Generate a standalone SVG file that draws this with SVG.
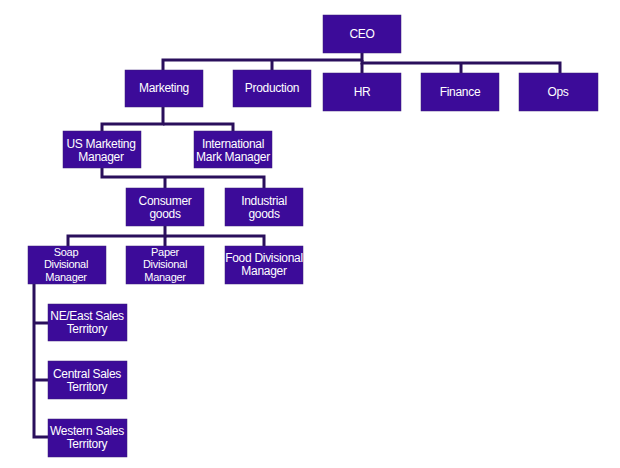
<svg xmlns="http://www.w3.org/2000/svg" width="620" height="468" viewBox="0 0 620 468">
<style>
.b{fill:#3c0b99;stroke:#3a1c7a;stroke-width:0.5}
.t{fill:#ffffff;font-family:"Liberation Sans",Arial,sans-serif;font-size:12px;text-anchor:middle;letter-spacing:-0.3px}
.s{font-size:11px}
.c{fill:none;stroke:#2a0f5c;stroke-width:3;stroke-linecap:butt}
</style>
<rect width="620" height="468" fill="#ffffff"/>
<g id="connectors">
<polyline class="c" points="362,53 362,60 163,60 163,70"/>
<line class="c" x1="272" y1="60" x2="272" y2="70"/>
<polyline class="c" points="362,60 362,63 560,63 560,73"/>
<line class="c" x1="362" y1="63" x2="362" y2="73"/>
<line class="c" x1="461" y1="63" x2="461" y2="73"/>
<polyline class="c" points="163,107 163,124 102,124 102,131"/>
<polyline class="c" points="163,124 233,124 233,131"/>
<polyline class="c" points="102,168 102,177 264,177 264,188"/>
<line class="c" x1="165" y1="177" x2="165" y2="188"/>
<polyline class="c" points="165,226 165,236 68,236 68,246"/>
<polyline class="c" points="165,236 264,236 264,246"/>
<line class="c" x1="165" y1="236" x2="165" y2="246"/>
<polyline class="c" points="34,284 34,437 48,437"/>
<line class="c" x1="34" y1="323" x2="48" y2="323"/>
<line class="c" x1="34" y1="380" x2="48" y2="380"/>
</g>
<g id="ceo"><rect class="b" x="323" y="15" width="78" height="38"/><text class="t" x="362" y="38">CEO</text></g>
<g id="marketing"><rect class="b" x="125" y="70" width="78" height="37"/><text class="t" x="164" y="92">Marketing</text></g>
<g id="production"><rect class="b" x="233" y="70" width="78" height="37"/><text class="t" x="272" y="92">Production</text></g>
<g id="hr"><rect class="b" x="323" y="73" width="78" height="38"/><text class="t" x="362" y="96">HR</text></g>
<g id="finance"><rect class="b" x="421" y="73" width="78" height="38"/><text class="t" x="460" y="96">Finance</text></g>
<g id="ops"><rect class="b" x="519" y="73" width="79" height="38"/><text class="t" x="558" y="96">Ops</text></g>
<g id="us-marketing"><rect class="b" x="63" y="131" width="78" height="37"/><text class="t" x="101" y="148">US Marketing</text><text class="t" x="101" y="161">Manager</text></g>
<g id="international"><rect class="b" x="194" y="131" width="78" height="37"/><text class="t" x="233" y="148">International</text><text class="t" x="233" y="161">Mark Manager</text></g>
<g id="consumer"><rect class="b" x="126" y="188" width="78" height="38"/><text class="t" x="165" y="205">Consumer</text><text class="t" x="165" y="218">goods</text></g>
<g id="industrial"><rect class="b" x="225" y="188" width="78" height="38"/><text class="t" x="264" y="205">Industrial</text><text class="t" x="264" y="218">goods</text></g>
<g id="soap"><rect class="b" x="28" y="246" width="78" height="38"/><text class="t s" x="66" y="255.5">Soap</text><text class="t s" x="66" y="268">Divisional</text><text class="t s" x="66" y="280.5">Manager</text></g>
<g id="paper"><rect class="b" x="126" y="246" width="78" height="38"/><text class="t s" x="165" y="255.5">Paper</text><text class="t s" x="165" y="268">Divisional</text><text class="t s" x="165" y="280.5">Manager</text></g>
<g id="food"><rect class="b" x="225" y="246" width="78" height="38"/><text class="t" x="264" y="262">Food Divisional</text><text class="t" x="264" y="275">Manager</text></g>
<g id="ne-east"><rect class="b" x="48" y="304" width="79" height="37"/><text class="t" x="87" y="320">NE/East Sales</text><text class="t" x="87" y="333">Territory</text></g>
<g id="central"><rect class="b" x="48" y="361" width="79" height="38"/><text class="t" x="87" y="378">Central Sales</text><text class="t" x="87" y="391">Territory</text></g>
<g id="western"><rect class="b" x="48" y="419" width="79" height="38"/><text class="t" x="87" y="435">Western Sales</text><text class="t" x="87" y="448">Territory</text></g>
</svg>
